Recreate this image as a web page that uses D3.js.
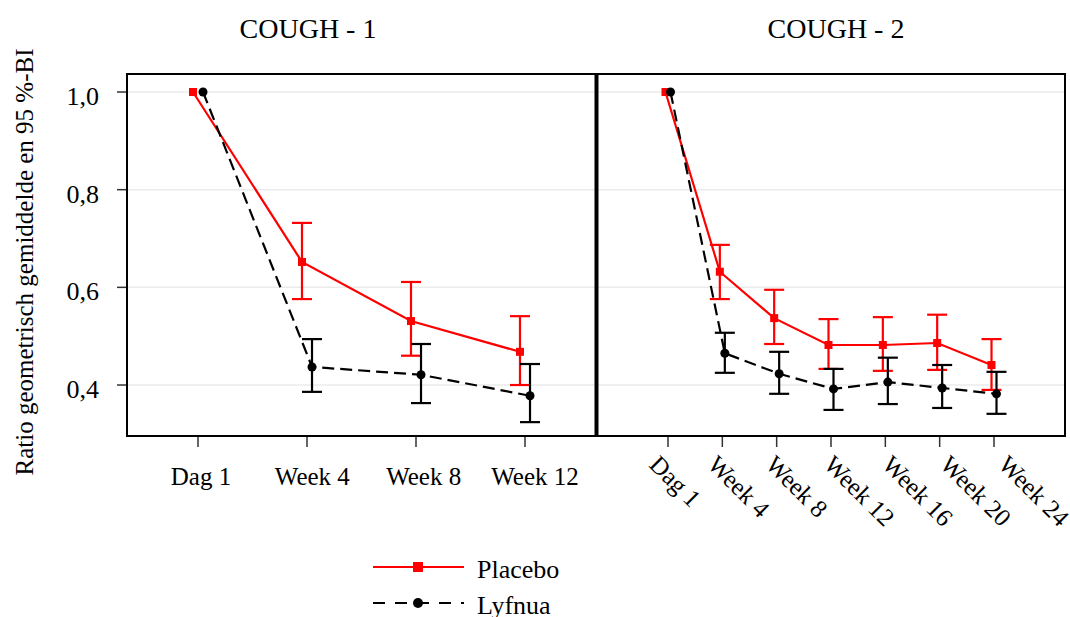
<!DOCTYPE html>
<html>
<head>
<meta charset="utf-8">
<script src="https://cdn.jsdelivr.net/npm/d3@7"></script>
<style>
  body { margin: 0; background: #fff; }
  svg text { font-family: "Liberation Serif", "Times New Roman", serif; fill: #000; }
</style>
</head>
<body>
<div id="chart"></div>
<script>
// categories
var weeks1 = ['Dag 1', 'Week 4', 'Week 8', 'Week 12'];
var weeks2 = ['Dag 1', 'Week 4', 'Week 8', 'Week 12', 'Week 16', 'Week 20', 'Week 24'];
var panelTitles = ['COUGH - 1', 'COUGH - 2'];
var seriesNames = ['Placebo', 'Lyfnua'];
var yTicks = [0.4, 0.6, 0.8, 1.0];

// COUGH - 1
var placebo1 = [1.0, 0.652, 0.531, 0.468];
var placebo1Lo = [1.0, 0.576, 0.460, 0.400];
var placebo1Hi = [1.0, 0.732, 0.611, 0.541];
var lyfnua1 = [1.0, 0.437, 0.421, 0.378];
var lyfnua1Lo = [1.0, 0.386, 0.363, 0.324];
var lyfnua1Hi = [1.0, 0.494, 0.484, 0.443];

// COUGH - 2
var placebo2 = [1.0, 0.632, 0.537, 0.482, 0.482, 0.486, 0.441];
var placebo2Lo = [1.0, 0.576, 0.484, 0.433, 0.429, 0.431, 0.390];
var placebo2Hi = [1.0, 0.687, 0.595, 0.535, 0.539, 0.544, 0.494];
var lyfnua2 = [1.0, 0.465, 0.423, 0.392, 0.406, 0.394, 0.382];
var lyfnua2Lo = [1.0, 0.425, 0.382, 0.349, 0.361, 0.353, 0.341];
var lyfnua2Hi = [1.0, 0.507, 0.468, 0.433, 0.456, 0.441, 0.427];

var width = 1070;
var height = 617;
var plotTop = 74, plotBottom = 436;
var colors = ['#ff0000', '#000000'];
var CAP = 20;

var svg = d3.select('#chart').append('svg')
    .attr('width', width)
    .attr('height', height);

var y = d3.scaleLinear().domain([0.2956, 1.0369]).range([plotBottom, plotTop]);

var panels = [
    { x0: 127, x1: 596, cats: weeks1, title: panelTitles[0], titleX: 308, rotate: false,
      labelRange: [201, 535],
      series: [[placebo1, placebo1Lo, placebo1Hi], [lyfnua1, lyfnua1Lo, lyfnua1Hi]] },
    { x0: 597, x1: 1065, cats: weeks2, title: panelTitles[1], titleX: 836, rotate: true,
      labelRange: [648, 997],
      series: [[placebo2, placebo2Lo, placebo2Hi], [lyfnua2, lyfnua2Lo, lyfnua2Hi]] }
];

panels.forEach(function(p) {
    var x = d3.scalePoint().domain(p.cats).range([p.x0 + 71, p.x1 - 71]);
    var dodge = x.step() * 0.046;
    var g = svg.append('g');

    // gridlines
    g.selectAll('.grid').data(yTicks).enter().append('line')
        .attr('x1', p.x0).attr('x2', p.x1)
        .attr('y1', function(d) { return y(d); }).attr('y2', function(d) { return y(d); })
        .attr('stroke', '#ebebeb').attr('stroke-width', 1.5);

    // series, placebo first then lyfnua on top
    p.series.forEach(function(s, si) {
        var off = si === 0 ? -dodge : dodge;
        var pts = p.cats.map(function(c, i) {
            return { x: x(c) + off, v: s[0][i], lo: s[1][i], hi: s[2][i] };
        });
        var line = d3.line().x(function(d) { return d.x; }).y(function(d) { return y(d.v); });
        g.append('path').datum(pts)
            .attr('d', line)
            .attr('fill', 'none')
            .attr('stroke', colors[si])
            .attr('stroke-width', 2.2)
            .attr('stroke-dasharray', si === 1 ? '12,6' : null);

        var bars = pts.filter(function(d) { return d.hi > d.lo; });
        var eb = g.append('g').attr('stroke', colors[si]).attr('stroke-width', 2.2);
        eb.selectAll('.v').data(bars).enter().append('line')
            .attr('x1', function(d) { return d.x; }).attr('x2', function(d) { return d.x; })
            .attr('y1', function(d) { return y(d.lo); }).attr('y2', function(d) { return y(d.hi); });
        ['lo', 'hi'].forEach(function(k) {
            eb.selectAll('.c' + k).data(bars).enter().append('line')
                .attr('x1', function(d) { return d.x - CAP / 2; }).attr('x2', function(d) { return d.x + CAP / 2; })
                .attr('y1', function(d) { return y(d[k]); }).attr('y2', function(d) { return y(d[k]); });
        });

        if (si === 0) {
            g.selectAll('.sq').data(pts).enter().append('rect')
                .attr('x', function(d) { return d.x - 4; })
                .attr('y', function(d) { return y(d.v) - 4; })
                .attr('width', 8).attr('height', 8)
                .attr('fill', colors[0]);
        } else {
            g.selectAll('.dot').data(pts).enter().append('circle')
                .attr('cx', function(d) { return d.x; })
                .attr('cy', function(d) { return y(d.v); })
                .attr('r', 4.5)
                .attr('fill', colors[1]);
        }
    });

    // frame
    g.append('rect')
        .attr('x', p.x0).attr('y', plotTop)
        .attr('width', p.x1 - p.x0).attr('height', plotBottom - plotTop)
        .attr('fill', 'none').attr('stroke', '#000').attr('stroke-width', 2);

    // x ticks
    g.selectAll('.xt').data(p.cats).enter().append('line')
        .attr('x1', function(d) { return x(d); }).attr('x2', function(d) { return x(d); })
        .attr('y1', plotBottom + 1).attr('y2', plotBottom + 11)
        .attr('stroke', '#333').attr('stroke-width', 1.5);

    var lx = d3.scalePoint().domain(p.cats).range(p.labelRange);
    if (p.rotate) {
        g.selectAll('.xl').data(p.cats).enter().append('text')
            .attr('transform', function(d) { return 'translate(' + lx(d) + ',466) rotate(45)'; })
            .attr('font-size', 25)
            .text(function(d) { return d; });
    } else {
        g.selectAll('.xl').data(p.cats).enter().append('text')
            .attr('x', function(d) { return lx(d); })
            .attr('y', 485)
            .attr('text-anchor', 'middle')
            .attr('font-size', 25)
            .text(function(d) { return d; });
    }

    // title
    g.append('text')
        .attr('x', p.titleX).attr('y', 38)
        .attr('text-anchor', 'middle')
        .attr('font-size', 28)
        .text(p.title);
});

// thick divider between the panels
svg.append('line')
    .attr('x1', 596.5).attr('x2', 596.5).attr('y1', plotTop - 1).attr('y2', plotBottom + 1)
    .attr('stroke', '#000').attr('stroke-width', 4);

// y axis
var ya = svg.append('g');
ya.selectAll('line').data(yTicks).enter().append('line')
    .attr('x1', 117).attr('x2', 126)
    .attr('y1', function(d) { return y(d); }).attr('y2', function(d) { return y(d); })
    .attr('stroke', '#333').attr('stroke-width', 1.5);
ya.selectAll('text').data(yTicks).enter().append('text')
    .attr('x', 99)
    .attr('y', function(d) { return y(d) + 13; })
    .attr('text-anchor', 'end')
    .attr('font-size', 26)
    .text(function(d) { return d3.format('.1f')(d).replace('.', ','); });

svg.append('text')
    .attr('transform', 'translate(33,262) rotate(-90)')
    .attr('text-anchor', 'middle')
    .attr('font-size', 25)
    .text('Ratio geometrisch gemiddelde en 95 %-BI');

// legend
var legend = svg.append('g');
seriesNames.forEach(function(name, i) {
    var ly = 567 + i * 36;
    legend.append('line')
        .attr('x1', 373).attr('x2', 464).attr('y1', ly).attr('y2', ly)
        .attr('stroke', colors[i]).attr('stroke-width', 2.2)
        .attr('stroke-dasharray', i === 1 ? '12,10' : null);
    if (i === 0) {
        legend.append('rect')
            .attr('x', 413).attr('y', ly - 5).attr('width', 10).attr('height', 10)
            .attr('fill', colors[0]);
    } else {
        legend.append('circle')
            .attr('cx', 418).attr('cy', ly).attr('r', 5)
            .attr('fill', colors[1]);
    }
    legend.append('text')
        .attr('x', 477).attr('y', ly + 11)
        .attr('font-size', 26)
        .text(name);
});
</script>
</body>
</html>
